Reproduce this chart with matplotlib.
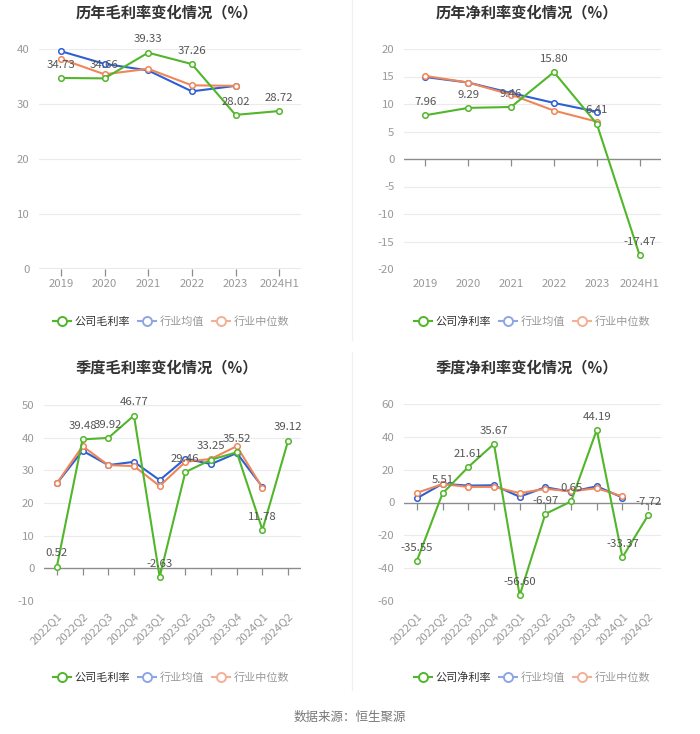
import matplotlib
matplotlib.use('Agg')
from matplotlib import pyplot as plt
from matplotlib.lines import Line2D

plt.rcParams['font.family'] = ['Noto Sans CJK SC', 'DejaVu Sans']

# Data
years = ['2019', '2020', '2021', '2022', '2023', '2024H1']
gross_company = [34.73, 34.66, 39.33, 37.26, 28.02, 28.72]
gross_avg = [39.6, 37.3, 36.1, 32.3, 33.3]
gross_median = [38.2, 35.4, 36.4, 33.4, 33.3]

net_company = [7.96, 9.29, 9.46, 15.80, 6.41, -17.47]
net_avg = [14.9, 13.9, 12.0, 10.2, 8.6]
net_median = [15.1, 13.9, 11.7, 8.8, 6.8]

quarters = ['2022Q1', '2022Q2', '2022Q3', '2022Q4', '2023Q1', '2023Q2',
            '2023Q3', '2023Q4', '2024Q1', '2024Q2']
q_gross_company = [0.52, 39.48, 39.92, 46.77, -2.63, 29.46, 33.25, 35.52, 11.78, 39.12]
q_gross_avg = [26.0, 36.0, 31.6, 32.6, 27.0, 33.6, 31.9, 35.3, 24.9]
q_gross_median = [26.0, 37.4, 31.6, 31.3, 25.2, 32.6, 33.5, 37.4, 24.6]

q_net_company = [-35.55, 5.51, 21.61, 35.67, -56.60, -6.97, 0.65, 44.19, -33.37, -7.72]
q_net_avg = [2.6, 11.4, 10.3, 10.5, 3.5, 9.3, 6.5, 9.9, 3.0]
q_net_median = [5.9, 11.2, 9.5, 9.5, 5.7, 8.3, 6.8, 8.7, 3.7]

GREEN = '#52b62a'
BLUE = '#2e5fd3'
ORANGE = '#ef8659'
W, H = 700, 734

fig = plt.figure(figsize=(W / 100, H / 100), dpi=100)


def px_axes(left, right, top, bottom):
    return fig.add_axes([left / W, 1 - bottom / H, (right - left) / W, (bottom - top) / H])


def draw_panel(ax, cats, company, avg, median, yticks, title, tx, ty, company_name,
               legend_x, legend_y, rotate=False):
    x = list(range(len(cats)))
    ax.set_xlim(-0.5, len(cats) - 0.5)
    ax.set_ylim(yticks[0], yticks[-1])
    for t in yticks:
        if t != 0:
            ax.axhline(t, color='#ebebeb', lw=0.8, zorder=0)
    ax.axhline(0, color='#8c8c8c', lw=1.0, zorder=1)
    ax.plot(x, [0] * len(x), linestyle='none', marker=3, markersize=5,
            color='#8c8c8c', markeredgewidth=0.9, zorder=1, clip_on=False)
    for s in ax.spines.values():
        s.set_visible(False)
    ax.set_yticks(yticks)
    ax.set_yticklabels([str(t) for t in yticks])
    ax.set_xticks(x)
    if rotate:
        ax.set_xticklabels(cats, rotation=45, ha='right', rotation_mode='anchor')
    else:
        ax.set_xticklabels(cats)
    ax.tick_params(length=0, colors='#999999', labelsize=8.2, pad=7)

    mk = dict(marker='o', markersize=4, markerfacecolor='white', markeredgewidth=1.1)
    ax.plot(range(len(avg)), avg, color=BLUE, lw=1.5, zorder=3, clip_on=False, **mk)
    ax.plot(range(len(median)), median, color=ORANGE, lw=1.5, zorder=3, clip_on=False, **mk)
    ax.plot(x, company, color=GREEN, lw=1.5, zorder=4, clip_on=False, **mk)
    for xi, v in zip(x, company):
        ax.annotate(f'{v:.2f}', (xi, v), xytext=(0, 6), textcoords='offset points',
                    ha='center', va='bottom', fontsize=8.2, color='#555555', zorder=5)

    fig.text(tx / W, 1 - ty / H, title, ha='center', va='center',
             fontsize=11, fontweight='bold', color='#333333')

    handles = [
        Line2D([], [], color=GREEN, lw=1.5, marker='o', markersize=6.5,
               markerfacecolor='white', markeredgewidth=1.4),
        Line2D([], [], color='#8fa6e6', lw=1.5, marker='o', markersize=6.5,
               markerfacecolor='white', markeredgewidth=1.4),
        Line2D([], [], color='#f3b097', lw=1.5, marker='o', markersize=6.5,
               markerfacecolor='white', markeredgewidth=1.4),
    ]
    leg = fig.legend(handles, [company_name, '行业均值', '行业中位数'],
                     loc='center', bbox_to_anchor=(legend_x / W, 1 - legend_y / H),
                     ncol=3, frameon=False, fontsize=8, handlelength=1.6,
                     handletextpad=0.35, columnspacing=0.7)
    for i, t in enumerate(leg.get_texts()):
        t.set_color('#333333' if i == 0 else '#999999')


ax1 = px_axes(39, 301, 49, 269)
draw_panel(ax1, years, gross_company, gross_avg, gross_median, [0, 10, 20, 30, 40],
           '历年毛利率变化情况（%）', 167, 12, '公司毛利率', 171, 322)

ax2 = px_axes(404, 661, 49, 269)
draw_panel(ax2, years, net_company, net_avg, net_median, [-20, -15, -10, -5, 0, 5, 10, 15, 20],
           '历年净利率变化情况（%）', 527, 12, '公司净利率', 532, 322)

ax3 = px_axes(44, 301, 405, 601)
draw_panel(ax3, quarters, q_gross_company, q_gross_avg, q_gross_median, [-10, 0, 10, 20, 30, 40, 50],
           '季度毛利率变化情况（%）', 167, 367, '公司毛利率', 171, 678, rotate=True)

ax4 = px_axes(404, 661, 404, 601)
draw_panel(ax4, quarters, q_net_company, q_net_avg, q_net_median, [-60, -40, -20, 0, 20, 40, 60],
           '季度净利率变化情况（%）', 527, 367, '公司净利率', 532, 678, rotate=True)

# faint separators between panels
fig.add_artist(Line2D([352 / W, 352 / W], [1 - 0 / H, 1 - 340 / H], color='#f0f0f0', lw=1))
fig.add_artist(Line2D([352 / W, 352 / W], [1 - 352 / H, 1 - 690 / H], color='#f0f0f0', lw=1))

fig.text(350 / W, 1 - 717 / H, '数据来源：恒生聚源', ha='center', va='center',
         fontsize=9, color='#777777')

fig.savefig('out.png', dpi=100)
